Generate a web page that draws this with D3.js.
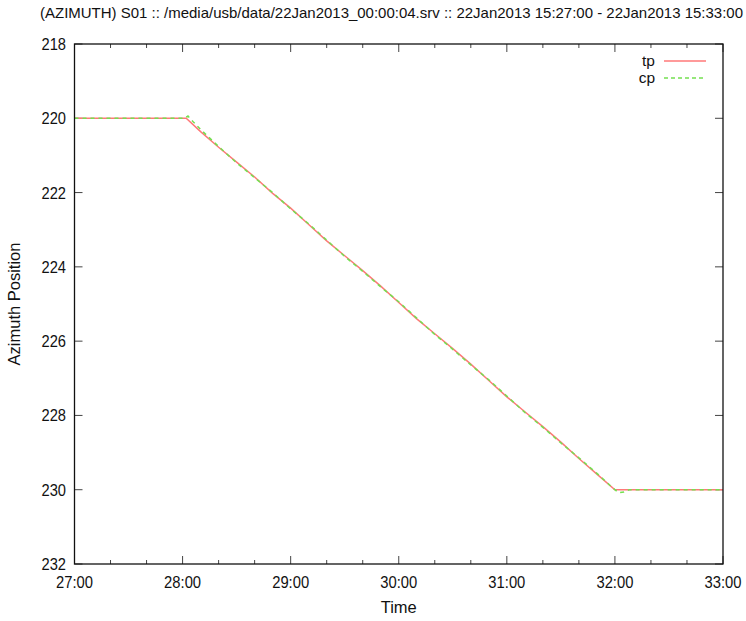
<!DOCTYPE html>
<html><head><meta charset="utf-8">
<script src="https://cdn.jsdelivr.net/npm/d3@7"></script>
<style>body{margin:0;background:#fff}text{font-family:"Liberation Sans",Arial,sans-serif;fill:#111}</style>
</head><body>
<svg id="c" width="746" height="621"></svg>
<script>
const title = "(AZIMUTH) S01 :: /media/usb/data/22Jan2013_00:00:04.srv :: 22Jan2013 15:27:00 - 22Jan2013 15:33:00";
// time in seconds (minutes:seconds of the hour)
const xTicks = [1620,1680,1740,1800,1860,1920,1980];
const xTickLabels = ["27:00","28:00","29:00","30:00","31:00","32:00","33:00"];
const yTicks = [218,220,222,224,226,228,230,232];
const tpTime = [1620,1682,1690,1700,1710,1720,1730,1740,1750,1760,1770,1780,1790,1800,1810,1820,1830,1840,1850,1860,1870,1880,1890,1900,1910,1920,1980];
const tpVal  = [220.00,220.00,220.36,220.78,221.18,221.58,222.02,222.42,222.86,223.30,223.70,224.10,224.52,224.96,225.40,225.80,226.20,226.62,227.06,227.50,227.90,228.30,228.72,229.16,229.58,230.00,230.00];
const cpTime = [1620,1681,1683,1686,1690,1700,1710,1720,1730,1740,1750,1760,1770,1780,1790,1800,1810,1820,1830,1840,1850,1860,1870,1880,1890,1900,1910,1919,1922,1925,1928,1980];
const cpVal  = [220.00,220.00,219.94,220.10,220.30,220.76,221.20,221.60,222.00,222.44,222.84,223.28,223.72,224.12,224.54,224.94,225.38,225.82,226.22,226.64,227.04,227.48,227.92,228.32,228.74,229.14,229.56,229.96,230.08,230.06,230.00,230.00];

const L=74.5,R=723,T=44,B=564;
const svg=d3.select("#c");
const x=d3.scaleLinear().domain([1620,1980]).range([L,R]);
const y=d3.scaleLinear().domain([218,232]).range([T,B]);

svg.append("text").attr("x",40).attr("y",18).attr("font-size",15)
  .attr("textLength",703).attr("lengthAdjust","spacingAndGlyphs").text(title);

// ticks
const minor=d3.range(1620,1981,20).filter(t=>!xTicks.includes(t));
const tk=svg.append("g").attr("stroke","#444").attr("stroke-width",1);
xTicks.forEach(t=>{tk.append("line").attr("x1",x(t)).attr("x2",x(t)).attr("y1",B).attr("y2",B-8);
  tk.append("line").attr("x1",x(t)).attr("x2",x(t)).attr("y1",T).attr("y2",T+8);});
minor.forEach(t=>{tk.append("line").attr("x1",x(t)).attr("x2",x(t)).attr("y1",B).attr("y2",B-4);
  tk.append("line").attr("x1",x(t)).attr("x2",x(t)).attr("y1",T).attr("y2",T+4);});
yTicks.forEach(v=>{tk.append("line").attr("x1",L).attr("x2",L+8).attr("y1",y(v)).attr("y2",y(v));
  tk.append("line").attr("x1",R).attr("x2",R-8).attr("y1",y(v)).attr("y2",y(v));});

// labels
yTicks.forEach(v=>svg.append("text").attr("x",66).attr("y",y(v)).attr("dy","0.36em")
  .attr("text-anchor","end").attr("font-size",16.5).attr("textLength",24.5).attr("lengthAdjust","spacingAndGlyphs").text(v));
xTicks.forEach((t,i)=>svg.append("text").attr("x",x(t)-18.5).attr("y",587.5)
  .attr("font-size",16.5).attr("textLength",37).attr("lengthAdjust","spacingAndGlyphs").text(xTickLabels[i]));
svg.append("text").attr("x",(L+R)/2).attr("y",613).attr("text-anchor","middle").attr("font-size",16.5).text("Time");
svg.append("text").attr("transform","translate(20,304) rotate(-90)").attr("text-anchor","middle")
  .attr("font-size",16.5).text("Azimuth Position");

// lines
const line=d3.line().x(d=>x(d[0])).y(d=>y(d[1]));
svg.append("path").datum(tpTime.map((t,i)=>[t,tpVal[i]])).attr("d",line)
  .attr("fill","none").attr("stroke","#ff7878").attr("stroke-width",1.5);
svg.append("path").datum(cpTime.map((t,i)=>[t,cpVal[i]])).attr("d",line)
  .attr("fill","none").attr("stroke","#74e050").attr("stroke-width",1.5).attr("stroke-dasharray","4,4");

// legend
svg.append("text").attr("x",655).attr("y",61).attr("dy","0.34em").attr("text-anchor","end").attr("font-size",15.5).text("tp");
svg.append("text").attr("x",655).attr("y",78).attr("dy","0.34em").attr("text-anchor","end").attr("font-size",15.5).text("cp");
svg.append("line").attr("x1",664).attr("x2",706).attr("y1",61).attr("y2",61).attr("stroke","#ff7878").attr("stroke-width",1.5);
svg.append("line").attr("x1",664).attr("x2",706).attr("y1",78).attr("y2",78).attr("stroke","#74e050").attr("stroke-width",1.5).attr("stroke-dasharray","4,3");

// border
svg.append("rect").attr("x",L).attr("y",T).attr("width",R-L).attr("height",B-T)
  .attr("fill","none").attr("stroke","#111").attr("stroke-width",1.3);
</script>
</body></html>
